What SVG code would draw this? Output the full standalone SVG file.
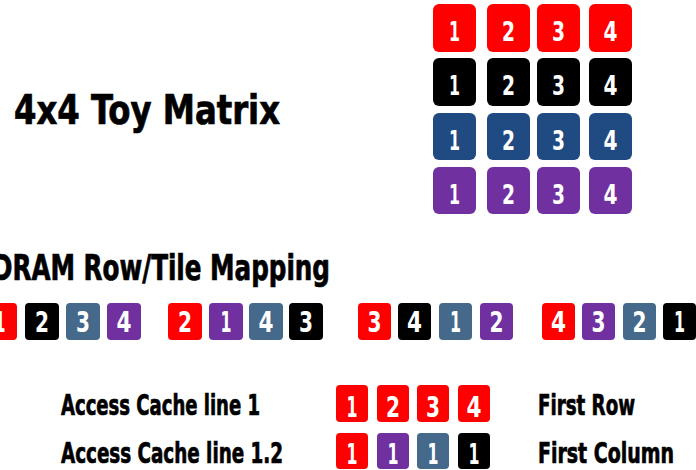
<svg xmlns="http://www.w3.org/2000/svg" width="696" height="470" viewBox="0 0 696 470">
<style>
.lbl{font-family:"Liberation Sans Narrow","DejaVu Sans Condensed","DejaVu Sans",sans-serif;font-weight:bold;fill:#000;stroke:#000;stroke-width:0.7}
.d{font-family:"Liberation Sans Narrow","DejaVu Sans Condensed","DejaVu Sans",sans-serif;font-weight:bold;fill:#fff;text-anchor:middle}
.m{font-size:27px}
.s{font-size:29px}
.r{fill:#ff0000}.k{fill:#000}.b{fill:#1f4b82}.p{fill:#7030a0}.g{fill:#44698a}
</style>
<rect width="696" height="470" fill="#fff"/>
<g id="title"><text class="lbl" x="14" y="124" font-size="41" textLength="266" lengthAdjust="spacingAndGlyphs">4x4 Toy Matrix</text></g>
<g id="matrix">
<g id="m-r1">
<rect class="r" x="433" y="4" width="43" height="48" rx="6"/><text class="d m" x="454.5" y="41" textLength="11" lengthAdjust="spacingAndGlyphs">1</text>
<rect class="r" x="487" y="4" width="43" height="48" rx="6"/><text class="d m" x="508.5" y="41" textLength="13" lengthAdjust="spacingAndGlyphs">2</text>
<rect class="r" x="537" y="4" width="43" height="48" rx="6"/><text class="d m" x="558.5" y="41" textLength="13" lengthAdjust="spacingAndGlyphs">3</text>
<rect class="r" x="589" y="4" width="43" height="48" rx="6"/><text class="d m" x="610.5" y="41" textLength="14" lengthAdjust="spacingAndGlyphs">4</text>
</g>
<g id="m-r2">
<rect class="k" x="433" y="58" width="43" height="48" rx="6"/><text class="d m" x="454.5" y="95" textLength="11" lengthAdjust="spacingAndGlyphs">1</text>
<rect class="k" x="487" y="58" width="43" height="48" rx="6"/><text class="d m" x="508.5" y="95" textLength="13" lengthAdjust="spacingAndGlyphs">2</text>
<rect class="k" x="537" y="58" width="43" height="48" rx="6"/><text class="d m" x="558.5" y="95" textLength="13" lengthAdjust="spacingAndGlyphs">3</text>
<rect class="k" x="589" y="58" width="43" height="48" rx="6"/><text class="d m" x="610.5" y="95" textLength="14" lengthAdjust="spacingAndGlyphs">4</text>
</g>
<g id="m-r3">
<rect class="b" x="433" y="113" width="43" height="47" rx="6"/><text class="d m" x="454.5" y="150" textLength="11" lengthAdjust="spacingAndGlyphs">1</text>
<rect class="b" x="487" y="113" width="43" height="47" rx="6"/><text class="d m" x="508.5" y="150" textLength="13" lengthAdjust="spacingAndGlyphs">2</text>
<rect class="b" x="537" y="113" width="43" height="47" rx="6"/><text class="d m" x="558.5" y="150" textLength="13" lengthAdjust="spacingAndGlyphs">3</text>
<rect class="b" x="589" y="113" width="43" height="47" rx="6"/><text class="d m" x="610.5" y="150" textLength="14" lengthAdjust="spacingAndGlyphs">4</text>
</g>
<g id="m-r4">
<rect class="p" x="433" y="167" width="43" height="47" rx="6"/><text class="d m" x="454.5" y="204" textLength="11" lengthAdjust="spacingAndGlyphs">1</text>
<rect class="p" x="487" y="167" width="43" height="47" rx="6"/><text class="d m" x="508.5" y="204" textLength="13" lengthAdjust="spacingAndGlyphs">2</text>
<rect class="p" x="537" y="167" width="43" height="47" rx="6"/><text class="d m" x="558.5" y="204" textLength="13" lengthAdjust="spacingAndGlyphs">3</text>
<rect class="p" x="589" y="167" width="43" height="47" rx="6"/><text class="d m" x="610.5" y="204" textLength="14" lengthAdjust="spacingAndGlyphs">4</text>
</g>
</g>
<g id="mapping-title"><text class="lbl" x="-8" y="280" font-size="35" textLength="338" lengthAdjust="spacingAndGlyphs">DRAM Row/Tile Mapping</text></g>
<g id="mapping">
<g id="tile-1">
<rect class="r" x="-17" y="303" width="34" height="37" rx="4"/><text class="d s" x="0" y="332" textLength="11" lengthAdjust="spacingAndGlyphs">1</text>
<rect class="k" x="25" y="303" width="34" height="37" rx="4"/><text class="d s" x="42" y="332" textLength="14" lengthAdjust="spacingAndGlyphs">2</text>
<rect class="g" x="66" y="303" width="34" height="37" rx="4"/><text class="d s" x="83" y="332" textLength="14" lengthAdjust="spacingAndGlyphs">3</text>
<rect class="p" x="107" y="303" width="34" height="37" rx="4"/><text class="d s" x="124" y="332" textLength="15" lengthAdjust="spacingAndGlyphs">4</text>
</g>
<g id="tile-2">
<rect class="r" x="168" y="303" width="34" height="37" rx="4"/><text class="d s" x="185" y="332" textLength="14" lengthAdjust="spacingAndGlyphs">2</text>
<rect class="p" x="209" y="303" width="34" height="37" rx="4"/><text class="d s" x="226" y="332" textLength="11" lengthAdjust="spacingAndGlyphs">1</text>
<rect class="g" x="249" y="303" width="34" height="37" rx="4"/><text class="d s" x="266" y="332" textLength="15" lengthAdjust="spacingAndGlyphs">4</text>
<rect class="k" x="289" y="303" width="34" height="37" rx="4"/><text class="d s" x="306" y="332" textLength="14" lengthAdjust="spacingAndGlyphs">3</text>
</g>
<g id="tile-3">
<rect class="r" x="358" y="303" width="33" height="37" rx="4"/><text class="d s" x="374.5" y="332" textLength="14" lengthAdjust="spacingAndGlyphs">3</text>
<rect class="k" x="398" y="303" width="33" height="37" rx="4"/><text class="d s" x="414.5" y="332" textLength="15" lengthAdjust="spacingAndGlyphs">4</text>
<rect class="g" x="439" y="303" width="33" height="37" rx="4"/><text class="d s" x="455.5" y="332" textLength="11" lengthAdjust="spacingAndGlyphs">1</text>
<rect class="p" x="480" y="303" width="33" height="37" rx="4"/><text class="d s" x="496.5" y="332" textLength="14" lengthAdjust="spacingAndGlyphs">2</text>
</g>
<g id="tile-4">
<rect class="r" x="542" y="303" width="33" height="37" rx="4"/><text class="d s" x="558.5" y="332" textLength="15" lengthAdjust="spacingAndGlyphs">4</text>
<rect class="p" x="582" y="303" width="33" height="37" rx="4"/><text class="d s" x="598.5" y="332" textLength="14" lengthAdjust="spacingAndGlyphs">3</text>
<rect class="g" x="623" y="303" width="33" height="37" rx="4"/><text class="d s" x="639.5" y="332" textLength="14" lengthAdjust="spacingAndGlyphs">2</text>
<rect class="k" x="663" y="303" width="33" height="37" rx="4"/><text class="d s" x="679.5" y="332" textLength="11" lengthAdjust="spacingAndGlyphs">1</text>
</g>
</g>
<g id="access-row">
<text class="lbl" x="61" y="415" font-size="28" textLength="199" lengthAdjust="spacingAndGlyphs">Access Cache line 1</text>
<rect class="r" x="336" y="385" width="32" height="37" rx="4"/><text class="d s" x="352" y="417" textLength="11" lengthAdjust="spacingAndGlyphs">1</text>
<rect class="r" x="377" y="385" width="32" height="37" rx="4"/><text class="d s" x="393" y="417" textLength="14" lengthAdjust="spacingAndGlyphs">2</text>
<rect class="r" x="417" y="385" width="32" height="37" rx="4"/><text class="d s" x="433" y="417" textLength="14" lengthAdjust="spacingAndGlyphs">3</text>
<rect class="r" x="458" y="385" width="32" height="37" rx="4"/><text class="d s" x="474" y="417" textLength="15" lengthAdjust="spacingAndGlyphs">4</text>
<text class="lbl" x="538" y="415" font-size="28" textLength="97" lengthAdjust="spacingAndGlyphs">First Row</text>
</g>
<g id="access-column">
<text class="lbl" x="61" y="463" font-size="28" textLength="222" lengthAdjust="spacingAndGlyphs">Access Cache line 1.2</text>
<rect class="r" x="336" y="433" width="32" height="36" rx="4"/><text class="d s" x="352" y="464" textLength="11" lengthAdjust="spacingAndGlyphs">1</text>
<rect class="p" x="377" y="433" width="32" height="36" rx="4"/><text class="d s" x="393" y="464" textLength="11" lengthAdjust="spacingAndGlyphs">1</text>
<rect class="g" x="417" y="433" width="32" height="36" rx="4"/><text class="d s" x="433" y="464" textLength="11" lengthAdjust="spacingAndGlyphs">1</text>
<rect class="k" x="458" y="433" width="32" height="36" rx="4"/><text class="d s" x="474" y="464" textLength="11" lengthAdjust="spacingAndGlyphs">1</text>
<text class="lbl" x="538" y="463" font-size="28" textLength="136" lengthAdjust="spacingAndGlyphs">First Column</text>
</g>
</svg>
